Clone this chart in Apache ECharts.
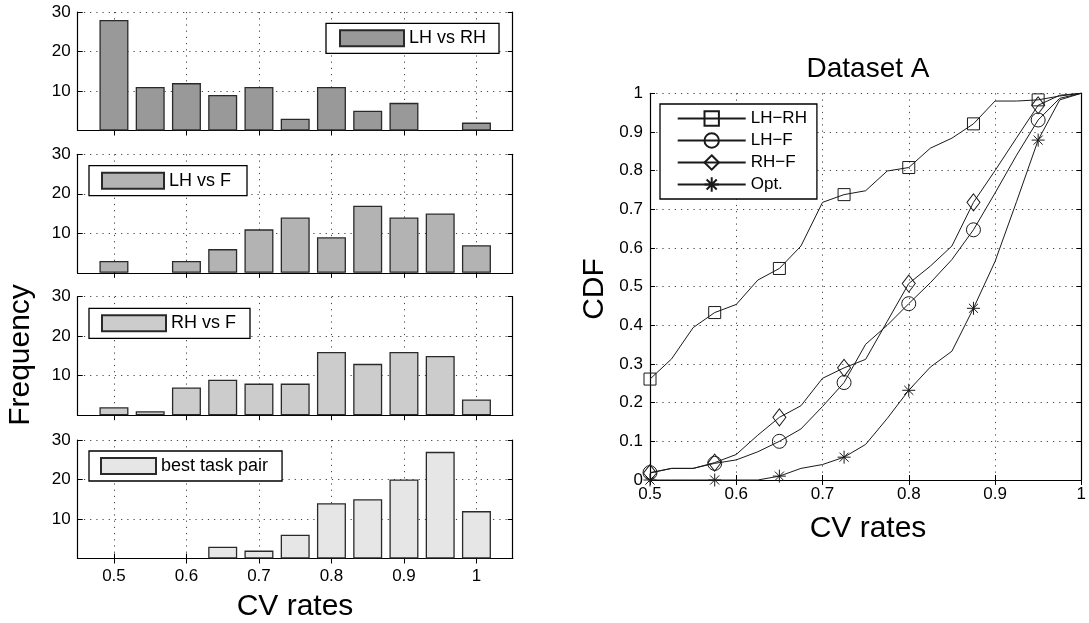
<!DOCTYPE html>
<html><head><meta charset="utf-8">
<script src="https://cdn.jsdelivr.net/npm/echarts@6/dist/echarts.min.js"></script>
<style>html,body{margin:0;padding:0;background:#fff}#c{width:1089px;height:623px}</style>
</head><body><div id="c"></div>
<script>
// ---------- data ----------
const binCenters = [0.5, 0.55, 0.6, 0.65, 0.7, 0.75, 0.8, 0.85, 0.9, 0.95, 1.0];
const histNames = ['LH vs RH', 'LH vs F', 'RH vs F', 'best task pair'];
const histLHvsRH = [28, 11, 12, 9, 11, 3, 11, 5, 7, 0, 2];
const histLHvsF  = [3, 0, 3, 6, 11, 14, 9, 17, 14, 15, 7];
const histRHvsF  = [2, 1, 7, 9, 8, 8, 16, 13, 16, 15, 4];
const histBest   = [0, 0, 0, 3, 2, 6, 14, 15, 20, 27, 12];
const histXTicks = [0.5, 0.6, 0.7, 0.8, 0.9, 1];

const cdfX = [0.5, 0.525, 0.55, 0.575, 0.6, 0.625, 0.65, 0.675, 0.7, 0.725, 0.75,
              0.775, 0.8, 0.825, 0.85, 0.875, 0.9, 0.925, 0.95, 0.975, 1.0];
const cdfNames = ['LH\u2212RH', 'LH\u2212F', 'RH\u2212F', 'Opt.'];
const cdfLHRH = [0.261, 0.313, 0.394, 0.433, 0.454, 0.517, 0.547, 0.605, 0.718, 0.738, 0.748,
                 0.799, 0.808, 0.858, 0.884, 0.921, 0.980, 0.980, 0.983, 0.993, 1.0];
const cdfLHF  = [0.019, 0.030, 0.030, 0.043, 0.052, 0.073, 0.100, 0.132, 0.190, 0.252, 0.351,
                 0.400, 0.456, 0.510, 0.570, 0.647, 0.742, 0.840, 0.931, 0.987, 1.0];
const cdfRHF  = [0.018, 0.030, 0.030, 0.045, 0.066, 0.116, 0.162, 0.192, 0.263, 0.290, 0.312,
                 0.410, 0.508, 0.553, 0.605, 0.718, 0.800, 0.885, 0.969, 0.995, 1.0];
const cdfOpt  = [0, 0, 0, 0, 0, 0, 0.010, 0.030, 0.040, 0.059, 0.092,
                 0.159, 0.232, 0.292, 0.333, 0.444, 0.565, 0.720, 0.879, 0.983, 1.0];

// ---------- styling / layout ----------
const FONT = "'Liberation Sans', Arial, sans-serif";
const histVals = [histLHvsRH, histLHvsF, histRHvsF, histBest];
const histColors = ['#999999', '#b3b3b3', '#cccccc', '#e6e6e6'];
const gridTops = [12, 154.3, 296.7, 440];
const HIST_LEFT = 77.7, HIST_W = 435, HIST_H = 118.5;
const dotted = { color: '#444', width: 1, type: [1.2, 5] };
const axLine = { show: true, lineStyle: { color: '#000', width: 1.2 } };
const tickIn = (extra) => Object.assign({ show: true, inside: true, length: 5, lineStyle: { color: '#000', width: 1 } }, extra || {});
const lbl = { fontFamily: FONT, fontSize: 17, color: '#000' };

const grids = gridTops.map(t => ({ left: HIST_LEFT, width: HIST_W, top: t, height: HIST_H }));
grids.push({ left: 650, width: 436, top: 93.3, height: 386.7 });

const xAxes = [], yAxes = [];
gridTops.forEach((t, i) => {
  xAxes.push({
    type: 'value', gridIndex: i, position: 'bottom', min: 0.45, max: 1.05,
    axisLine: axLine, axisTick: tickIn({ customValues: histXTicks }),
    axisLabel: Object.assign({ show: i === 3, margin: 9, customValues: histXTicks, formatter: v => String(+v.toFixed(2)) }, lbl),
    splitLine: { show: true, lineStyle: dotted }
  });
  xAxes.push({
    type: 'value', gridIndex: i, position: 'top', min: 0.45, max: 1.05,
    axisLine: axLine, axisTick: tickIn({ customValues: histXTicks }),
    axisLabel: { show: false }, splitLine: { show: false }
  });
  yAxes.push({
    type: 'value', gridIndex: i, position: 'left', min: 0, max: 30, interval: 10,
    axisLine: axLine, axisTick: tickIn(),
    axisLabel: Object.assign({ margin: 7, formatter: v => v === 0 ? '' : String(v) }, lbl),
    splitLine: { show: true, lineStyle: dotted }
  });
  yAxes.push({
    type: 'value', gridIndex: i, position: 'right', min: 0, max: 30, interval: 10,
    axisLine: axLine, axisTick: tickIn(), axisLabel: { show: false }, splitLine: { show: false }
  });
});
xAxes.push({
  type: 'value', gridIndex: 4, position: 'bottom', min: 0.5, max: 1, interval: 0.1,
  axisLine: axLine, axisTick: tickIn(), axisLabel: Object.assign({ margin: 6 }, lbl),
  splitLine: { show: true, lineStyle: dotted }
});
xAxes.push({
  type: 'value', gridIndex: 4, position: 'top', min: 0.5, max: 1, interval: 0.1,
  axisLine: axLine, axisTick: tickIn(), axisLabel: { show: false }, splitLine: { show: false }
});
yAxes.push({
  type: 'value', gridIndex: 4, position: 'left', min: 0, max: 1, interval: 0.1,
  axisLine: axLine, axisTick: tickIn(), axisLabel: Object.assign({ margin: 7 }, lbl),
  splitLine: { show: true, lineStyle: dotted }
});
yAxes.push({
  type: 'value', gridIndex: 4, position: 'right', min: 0, max: 1, interval: 0.1,
  axisLine: axLine, axisTick: tickIn(), axisLabel: { show: false }, splitLine: { show: false }
});

const series = [];
histVals.forEach((vals, i) => {
  series.push({
    type: 'bar', name: histNames[i], xAxisIndex: 2 * i, yAxisIndex: 2 * i,
    barWidth: 29,
    data: binCenters.map((x, k) => [x, vals[k]]).filter(d => d[1] > 0),
    itemStyle: { color: histColors[i], borderColor: '#2a2a2a', borderWidth: 1.3 },
    silent: true
  });
});

const starPath = 'path://M5,0L5,10M0,5L10,5M1.5,1.5L8.5,8.5M1.5,8.5L8.5,1.5';
const cdfSymbols = ['rect', 'circle', 'diamond', starPath];
const cdfSizes = [12, 14, [13, 17], 13];
const cdfVals = [cdfLHRH, cdfLHF, cdfRHF, cdfOpt];
cdfVals.forEach((ys, s) => {
  series.push({
    type: 'line', name: cdfNames[s], xAxisIndex: 8, yAxisIndex: 8,
    symbol: cdfSymbols[s], symbolSize: cdfSizes[s],
    data: cdfX.map((x, i) => ({ value: [x, ys[i]], symbol: (i % 3 === 0 && i < 20) ? cdfSymbols[s] : 'none' })),
    lineStyle: { color: '#1a1a1a', width: 1 },
    itemStyle: { color: 'rgba(255,255,255,0)', borderColor: '#1a1a1a', borderWidth: 1 },
    clip: false, silent: true
  });
});

const legBase = {
  selectedMode: false, borderColor: '#000', borderWidth: 1.3, backgroundColor: '#fff',
  textStyle: { fontFamily: FONT, fontSize: 18, color: '#000' }, icon: 'rect', itemHeight: 16
};
const legends = [
  Object.assign({}, legBase, { data: [histNames[0]], left: 326, top: 23.3, itemWidth: 64, padding: [6, 13, 6, 13] }),
  Object.assign({}, legBase, { data: [histNames[1]], left: 89, top: 165.7, itemWidth: 62, padding: [6, 16, 6, 12] }),
  Object.assign({}, legBase, { data: [histNames[2]], left: 89, top: 308.3, itemWidth: 64, padding: [6, 14, 6, 12] }),
  Object.assign({}, legBase, { data: [histNames[3]], left: 89, top: 451, itemWidth: 55, padding: [6, 14, 6, 11] }),
  {
    data: cdfNames, left: 660, top: 104, orient: 'vertical', selectedMode: false,
    itemWidth: 68, itemHeight: 18, itemGap: 5, padding: [6, 10, 6, 16.7],
    borderColor: '#000', borderWidth: 1.3, backgroundColor: '#fff',
    textStyle: { fontFamily: FONT, fontSize: 17, color: '#000' }
  }
];

const txt = (text, x, y, size, rot) => ({
  type: 'text', x: x, y: y, rotation: rot || 0,
  style: { text: text, font: size + 'px ' + FONT, fill: '#000', textAlign: 'center', textVerticalAlign: 'middle' }
});

const chart = echarts.init(document.getElementById('c'), null, { renderer: 'canvas' });
chart.setOption({
  animation: false,
  backgroundColor: '#fff',
  grid: grids, xAxis: xAxes, yAxis: yAxes, series: series, legend: legends,
  graphic: [
    txt('Frequency', 21, 355, 30, Math.PI / 2),
    txt('CV rates', 295, 607, 30),
    txt('Dataset A', 868, 69, 28),
    txt('CDF', 595, 289, 30, Math.PI / 2),
    txt('CV rates', 868, 529, 30)
  ]
});
</script></body></html>
